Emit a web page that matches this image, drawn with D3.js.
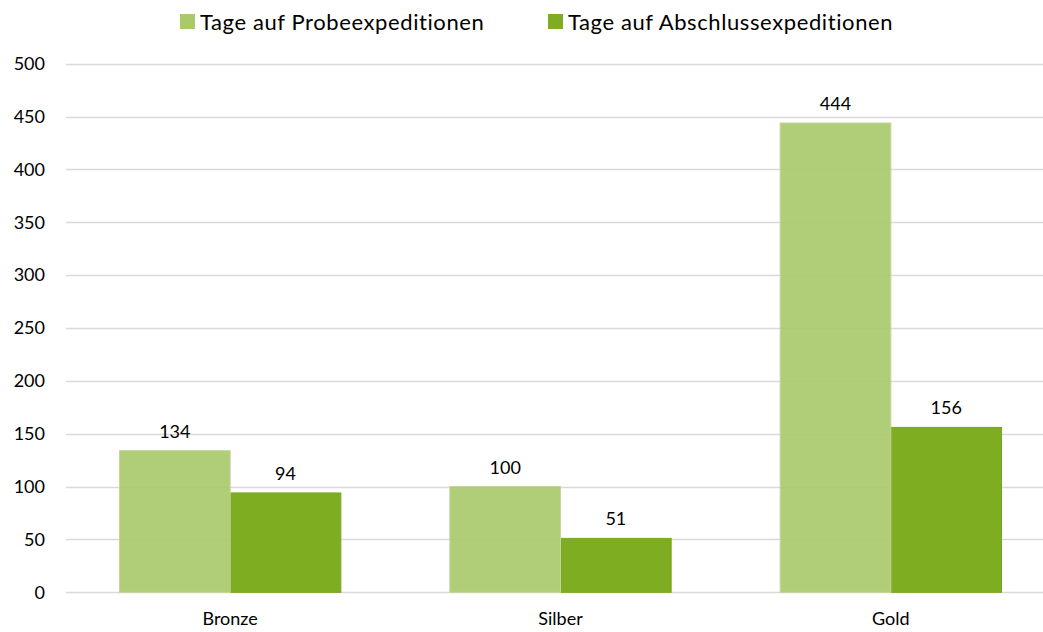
<html>
<head>
    <script src="https://d3js.org/d3.v7.min.js"></script>
    <title>Expeditionstage</title>
    <style>
        body { margin: 0; background: #fff; }
        text { font-family: Lato, "Open Sans", sans-serif; fill: #000; }
    </style>
</head>
<body>
<svg id="chart" width="1043" height="632"></svg>
<script>
    // data
    const categories = ["Bronze", "Silber", "Gold"];
    const seriesNames = ["Tage auf Probeexpeditionen", "Tage auf Abschlussexpeditionen"];
    const probe = [134, 100, 444];
    const abschluss = [94, 51, 156];
    const yTicks = [0, 50, 100, 150, 200, 250, 300, 350, 400, 450, 500];

    const colors = ["#a9c96b", "#7fad22"];
    const strokes = ["#c3d69b", "#7aa61f"];

    const svg = d3.select("#chart");

    var x = d3.scaleBand().domain(categories).range([65, 1056]);
    var y = d3.scaleLinear().domain([0, 500]).range([592.3, 63.8]);
    // the two bars of a group take about 2/3 of the band
    var x1 = d3.scaleBand().domain([0, 1])
        .range([x.bandwidth() * 0.165, x.bandwidth() * 0.835]);

    // gridlines
    svg.append("g")
        .selectAll("line")
        .data(yTicks)
        .enter().append("line")
        .attr("x1", 66).attr("x2", 1043)
        .attr("y1", function(d) {return Math.round(y(d)) + 0.5;})
        .attr("y2", function(d) {return Math.round(y(d)) + 0.5;})
        .attr("stroke", "#d9d9d9")
        .attr("stroke-width", 1.3);

    // y labels
    var yAxis = d3.axisLeft(y).tickValues(yTicks).tickSize(0).tickPadding(0);
    var gy = svg.append("g").attr("transform", "translate(45,0)").call(yAxis);
    gy.select(".domain").remove();
    gy.selectAll("text").attr("font-size", 18).attr("font-family", "Lato, sans-serif").attr("fill", "#000");

    var series = [probe, abschluss];

    // dark bars first, light bars are a bit translucent
    [1, 0].forEach(function(s) {
        svg.append("g").selectAll("rect")
            .data(series[s])
            .enter().append("rect")
            .attr("x", function(d, i) {return x(categories[i]) + x1(s);})
            .attr("y", function(d) {return y(d);})
            .attr("width", x1.bandwidth())
            .attr("height", function(d) {return y(0) - y(d);})
            .attr("fill", colors[s])
            .attr("fill-opacity", s === 0 ? 0.92 : 1)
            .attr("stroke", strokes[s])
            .attr("stroke-width", 1);
    });

    // value labels
    [0, 1].forEach(function(s) {
        svg.append("g").selectAll("text")
            .data(series[s])
            .enter().append("text")
            .attr("x", function(d, i) {return x(categories[i]) + x1(s) + x1.bandwidth() / 2;})
            .attr("y", function(d) {return y(d) - 13;})
            .attr("text-anchor", "middle")
            .attr("font-size", 18)
            .text(function(d) {return d;});
    });

    // x labels
    var xAxis = d3.axisBottom(x).tickSize(0).tickPadding(0);
    var gx = svg.append("g").attr("transform", "translate(0,610)").call(xAxis);
    gx.select(".domain").remove();
    gx.selectAll("text").attr("font-size", 18).attr("font-family", "Lato, sans-serif").attr("fill", "#000").attr("dy", "0.85em");

    // legend
    var legendX = [180, 548];
    var legend = svg.append("g").selectAll("g")
        .data(seriesNames)
        .enter().append("g")
        .attr("transform", function(d, i) {return "translate(" + legendX[i] + ",14)";});
    legend.append("rect")
        .attr("width", 15).attr("height", 15)
        .attr("fill", function(d, i) {return colors[i];});
    legend.append("text")
        .attr("x", 20).attr("y", 8)
        .attr("dy", "0.36em")
        .attr("font-size", 22)
        .attr("letter-spacing", 0.6)
        .text(function(d) {return d;});
</script>
</body>
</html>
